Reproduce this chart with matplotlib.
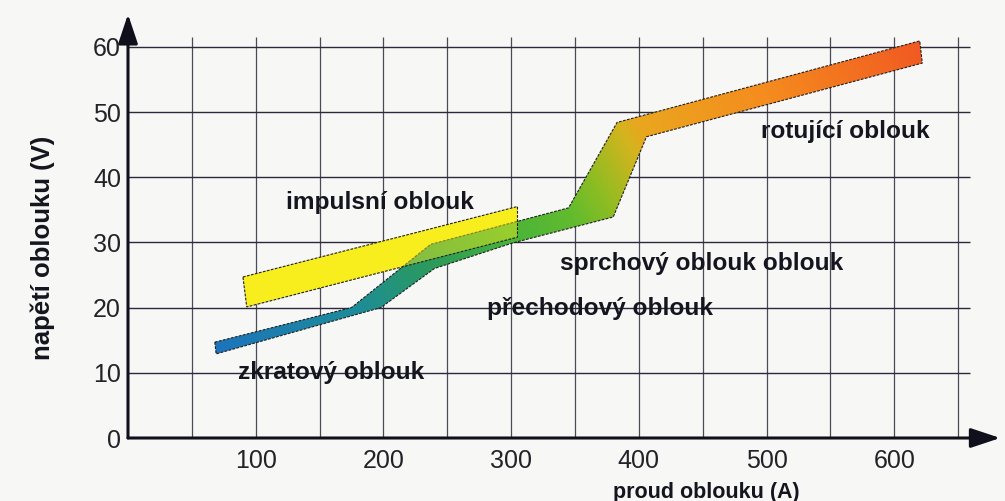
import numpy as np
import matplotlib
matplotlib.use("Agg")
import matplotlib.pyplot as plt
from matplotlib.colors import LinearSegmentedColormap
from matplotlib.patches import Polygon

# ---------------- data ----------------
x_ticks = [100, 200, 300, 400, 500, 600]
y_ticks = [0, 10, 20, 30, 40, 50, 60]
grid_x = [50, 100, 150, 200, 250, 300, 350, 400, 450, 500, 550, 600, 650]
grid_y = [10, 20, 30, 40, 50, 60]

# impulsní oblouk band (current A, voltage V)
impulse_x = [90, 305, 305, 93]
impulse_y = [24.7, 35.5, 30.8, 20.1]

# main band: zkratový -> přechodový -> sprchový -> rotující
main_x = [68, 175, 237, 345, 383, 620, 622, 406, 380, 301, 240, 198, 69]
main_y = [14.7, 20.0, 29.7, 35.3, 48.4, 60.9, 57.5, 46.2, 33.9, 29.9, 26.0, 20.0, 12.9]

labels = ["impulsní oblouk", "zkratový oblouk", "přechodový oblouk",
          "sprchový oblouk oblouk", "rotující oblouk"]
label_x = [124, 86, 281, 338, 496]
label_y = [35.1, 9.0, 18.9, 25.7, 46.0]

x_title = "proud oblouku (A)"
y_title = "napětí oblouku (V)"

# ---------------- figure ----------------
W, H = 1005, 501
fig = plt.figure(figsize=(W / 100, H / 100), dpi=100, facecolor="#f7f7f5")
x0, y0 = 128, 63
ax = fig.add_axes([x0 / W, y0 / H, 1 - x0 / W, 1 - y0 / H])
ax.set_facecolor("none")
xmax = (W - x0) / 1.277
ymax = (H - y0) / 6.52

FONT = "Liberation Sans"
INK = "#15151f"

# grid
ax.vlines(grid_x, 0, 61.5, colors="#4a4a56", linewidth=0.9, zorder=1)
ax.hlines(grid_y, 0, 659, colors="#2a2a3c", linewidth=1.0, zorder=1)

# yellow band (opaque base)
imp_pts = np.column_stack([impulse_x, impulse_y])
ax.add_patch(Polygon(imp_pts, closed=True, facecolor="#f8ee1e",
                     edgecolor="none", zorder=2))

# gradient band
stops_t = [110, 235, 321, 393, 450, 482, 528, 545, 659, 800]
stops_c = ["#1c74bc", "#1d8c9a", "#2c9c58", "#4ab43a", "#62bb2e",
           "#8cbd22", "#d4b41e", "#eaa61e", "#f58c1e", "#f15a22"]
cmap = LinearSegmentedColormap.from_list(
    "arc", [((t - stops_t[0]) / (stops_t[-1] - stops_t[0]), c) for t, c in zip(stops_t, stops_c)])
gx = np.linspace(60, 630, 700)
gy = np.linspace(10, 63, 300)
GX, GY = np.meshgrid(gx, gy)
T = GX + 3 * GY
im = ax.imshow(T, extent=(60, 630, 10, 63), origin="lower", cmap=cmap,
               vmin=stops_t[0], vmax=stops_t[-1], aspect="auto",
               interpolation="bilinear", zorder=3)
main_pts = np.column_stack([main_x, main_y])
clip = Polygon(main_pts, closed=True, facecolor="none", edgecolor="none",
               transform=ax.transData)
ax.add_patch(clip)
im.set_clip_path(clip)
ax.add_patch(Polygon(main_pts, closed=True, facecolor="none", edgecolor="#202020",
                     linewidth=0.8, linestyle=(0, (2.5, 1.2)), zorder=4))

# translucent yellow over the overlap
ax.add_patch(Polygon(imp_pts, closed=True, facecolor="#f8ee1e", alpha=0.45,
                     edgecolor="none", zorder=5))
ax.add_patch(Polygon(imp_pts, closed=True, facecolor="none", edgecolor="#202020",
                     linewidth=0.8, linestyle=(0, (2.5, 1.2)), zorder=5))

# axes arrows
arrow = dict(arrowstyle="-|>,head_length=0.9,head_width=0.3", lw=2.2,
             color="#10101c", mutation_scale=20, shrinkA=0, shrinkB=0)
ax.annotate("", xy=(683, 0), xytext=(0, 0), arrowprops=arrow,
            annotation_clip=False, zorder=6)
ax.annotate("", xy=(0, 65), xytext=(0, 0), arrowprops=arrow,
            annotation_clip=False, zorder=6)

# labels in the plot
for s, lx, ly in zip(labels, label_x, label_y):
    ax.text(lx, ly, s, fontsize=17.6, fontweight="bold", family=FONT,
            color=INK, ha="left", va="baseline", zorder=7)

ax.set_xlim(0, xmax)
ax.set_ylim(0, ymax)
for sp in ax.spines.values():
    sp.set_visible(False)
ax.set_xticks(x_ticks)
ax.set_xticklabels([str(v) for v in x_ticks])
ax.set_yticks(y_ticks)
ax.set_yticklabels([str(v) for v in y_ticks])
ax.tick_params(length=0, labelsize=18, labelcolor="#222228")
ax.tick_params(axis="x", pad=8)
ax.tick_params(axis="y", pad=5)
for t in ax.get_xticklabels() + ax.get_yticklabels():
    t.set_family(FONT)

ax.set_xlabel(x_title, fontsize=15.5, fontweight="bold", family=FONT,
              color=INK, va="center", ha="center")
ax.xaxis.set_label_coords(453 / xmax, -8.3 / ymax)
ax.set_ylabel(y_title, fontsize=18.5, fontweight="bold", family=FONT,
              color=INK, va="center", ha="center")
ax.yaxis.set_label_coords((43 - x0) / (W - x0), 29.1 / ymax)

fig.savefig("out.png", dpi=100, facecolor=fig.get_facecolor())
